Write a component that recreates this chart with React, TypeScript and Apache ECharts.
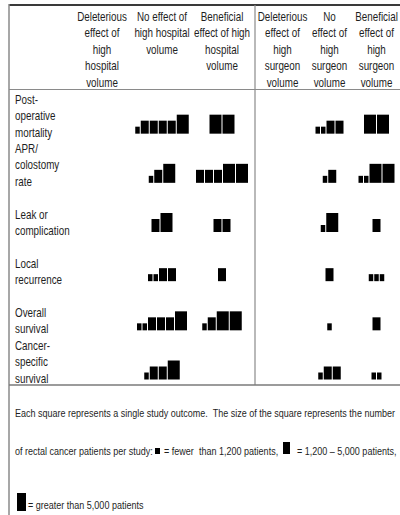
import React, { useEffect, useRef } from "react";
import * as echarts from "echarts";

// Row (outcome) labels, as wrapped in the reference
const rowLabels = [
  "Post-\noperative\nmortality",
  "APR/\ncolostomy\nrate",
  "Leak or\ncomplication",
  "Local\nrecurrence",
  "Overall\nsurvival",
  "Cancer-\nspecific\nsurvival",
];

// Column headers
const hospitalColumns = [
  "Deleterious\neffect of\nhigh\nhospital\nvolume",
  "No effect of\nhigh hospital\nvolume",
  "Beneficial\neffect of high\nhospital\nvolume",
];
const surgeonColumns = [
  "Deleterious\neffect of\nhigh\nsurgeon\nvolume",
  "No\neffect of\nhigh\nsurgeon\nvolume",
  "Beneficial\neffect of\nhigh\nsurgeon\nvolume",
];

// Study outcomes per cell (one letter per study):
// S = fewer than 1,200 patients, M = 1,200–5,000 patients, L = greater than 5,000 patients
const hospitalDeleterious = ["", "", "", "", "", ""];
const hospitalNoEffect = ["SMMMML", "SML", "ML", "SSMM", "SSMMML", "SMML"];
const hospitalBeneficial = ["LL", "MMMLL", "MM", "M", "SMLL", ""];
const surgeonDeleterious = ["", "", "", "", "", ""];
const surgeonNoEffect = ["SSMM", "SM", "SL", "M", "S", "SMM"];
const surgeonBeneficial = ["LL", "SSLL", "M", "SSS", "M", "SS"];

// Footer note
const noteLine1 = "Each square represents a single study outcome.  The size of the square represents the number";
const noteLine2a = "of rectal cancer patients per study:";
const noteLine2b = "= fewer";
const noteLine2c = "than 1,200 patients,";
const noteLine2d = "= 1,200 – 5,000 patients,";
const noteLine3 = "= greater than 5,000 patients";

const FONT = "'Liberation Sans', Arial, sans-serif";
const NARROW = 0.82;
const INK = "#1e1e1e";
const SQUARE: Record<string, [number, number]> = { S: [4.5, 7], M: [8, 13], L: [12, 19] };
const GAP = 1;

type Cell = { col: number; row: number; sizes: string };
function buildCells(cols: string[][]): Cell[] {
  const out: Cell[] = [];
  cols.forEach((col, ci) =>
    col.forEach((sizes, ri) => {
      if (sizes) out.push({ col: ci, row: ri, sizes });
    })
  );
  return out;
}
const hospitalCells = buildCells([hospitalDeleterious, hospitalNoEffect, hospitalBeneficial]);
const surgeonCells = buildCells([surgeonDeleterious, surgeonNoEffect, surgeonBeneficial]);

function makeRender(cells: Cell[]) {
  return (params: any, api: any) => {
    const cell = cells[params.dataIndex];
    const pt = api.coord([api.value(0), api.value(1) + 1]);
    const dims = cell.sizes.split("").map((s) => SQUARE[s]);
    const total = dims.reduce((a, d) => a + d[0], 0) + GAP * (dims.length - 1);
    let x = pt[0] - total / 2;
    const bottom = pt[1] - 5.5;
    const children = dims.map((d) => {
      const r = {
        type: "rect",
        shape: { x, y: bottom - d[1], width: d[0], height: d[1] },
        style: { fill: "#000" },
      };
      x += d[0] + GAP;
      return r;
    });
    return { type: "group", children };
  };
}

function txt(text: string, x: number, y: number, opts: any = {}) {
  const size = opts.size ?? 11;
  return {
    type: "text",
    x,
    y,
    scaleX: opts.scaleX ?? NARROW,
    style: {
      text,
      font: `${size}px ${FONT}`,
      fill: INK,
      align: opts.align ?? "left",
      verticalAlign: opts.verticalAlign ?? "middle",
      lineHeight: opts.lineHeight ?? 16.5,
    },
  };
}

export default function App() {
  const ref = useRef<HTMLDivElement>(null);
  useEffect(() => {
    if (!ref.current) return;
    const chart = echarts.init(ref.current, null, { renderer: "svg" });
    const hiddenAxis = {
      axisLine: { show: false },
      axisTick: { show: false },
      splitLine: { show: false },
      axisLabel: { show: false },
    };
    chart.setOption({
      animation: false,
      backgroundColor: "#ffffff",
      grid: [
        { left: 72, top: 90, width: 180, height: 295 },
        { left: 259, top: 90, width: 144, height: 295 },
      ],
      xAxis: [
        { gridIndex: 0, type: "category", data: hospitalColumns, position: "top", ...hiddenAxis },
        { gridIndex: 1, type: "category", data: surgeonColumns, position: "top", ...hiddenAxis },
      ],
      yAxis: [
        { gridIndex: 0, type: "value", min: 0, max: 6, interval: 1, inverse: true, ...hiddenAxis },
        { gridIndex: 1, type: "value", min: 0, max: 6, interval: 1, inverse: true, ...hiddenAxis },
      ],
      series: [
        {
          type: "custom",
          xAxisIndex: 0,
          yAxisIndex: 0,
          data: hospitalCells.map((c) => [c.col, c.row]),
          renderItem: makeRender(hospitalCells),
        },
        {
          type: "custom",
          xAxisIndex: 1,
          yAxisIndex: 1,
          data: surgeonCells.map((c) => [c.col, c.row]),
          renderItem: makeRender(surgeonCells),
        },
      ],
    });

    // Header and row label positions from the axes' own scales
    const headerTexts: any[] = [];
    hospitalColumns.forEach((name, i) => {
      const x = chart.convertToPixel({ xAxisIndex: 0 }, i) as number;
      headerTexts.push(txt(name, x, 8, { size: 12, align: "center", verticalAlign: "top" }));
    });
    surgeonColumns.forEach((name, i) => {
      const x = chart.convertToPixel({ xAxisIndex: 1 }, i) as number;
      headerTexts.push(txt(name, x, 8, { size: 12, align: "center", verticalAlign: "top" }));
    });
    const rowTexts = rowLabels.map((name, i) => {
      const yb = chart.convertToPixel({ yAxisIndex: 0 }, i + 1) as number;
      return txt(name, 15, yb + 1.5, { size: 12, verticalAlign: "bottom" });
    });

    const ls = (c: string, w: number) => ({ stroke: c, lineWidth: w });
    chart.setOption({
      graphic: [
        { type: "line", shape: { x1: 9, y1: 5, x2: 400, y2: 5 }, style: ls("#3a3a3a", 2) },
        { type: "line", shape: { x1: 9, y1: 4, x2: 9, y2: 515 }, style: ls("#8a8a8a", 1.5) },
        { type: "line", shape: { x1: 9, y1: 89.5, x2: 400, y2: 89.5 }, style: ls("#8a8a8a", 1.2) },
        { type: "line", shape: { x1: 255, y1: 5, x2: 255, y2: 385 }, style: ls("#8a8a8a", 1.2) },
        { type: "line", shape: { x1: 9, y1: 385, x2: 400, y2: 385 }, style: ls("#7a7a7a", 1.5) },
        ...headerTexts,
        ...rowTexts,
        txt(noteLine1, 15, 413),
        txt(noteLine2a, 15, 451),
        { type: "rect", shape: { x: 155, y: 448, width: 5, height: 6 }, style: { fill: "#000" } },
        txt(noteLine2b, 164, 451),
        txt(noteLine2c, 199, 451),
        { type: "rect", shape: { x: 283, y: 442, width: 7, height: 12 }, style: { fill: "#000" } },
        txt(noteLine2d, 297, 451),
        { type: "rect", shape: { x: 17, y: 493, width: 9, height: 18 }, style: { fill: "#000" } },
        txt(noteLine3, 28, 505),
      ],
    });
    return () => chart.dispose();
  }, []);
  return <div ref={ref} style={{ width: 400, height: 515, position: "absolute", left: 0, top: 0 }} />;
}
